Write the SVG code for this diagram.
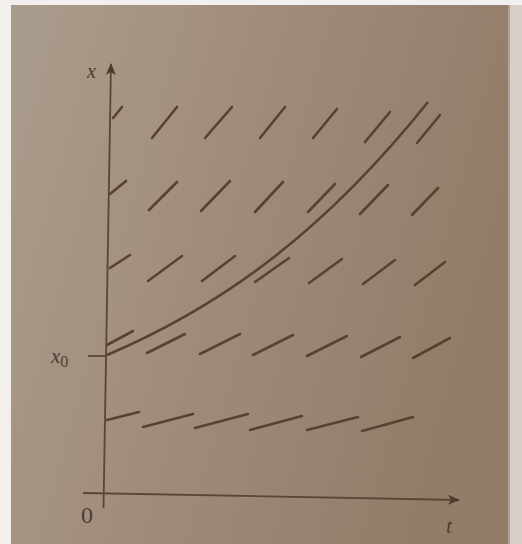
<svg xmlns="http://www.w3.org/2000/svg" width="522" height="544" viewBox="0 0 522 544">
<defs>
<linearGradient id="bg" x1="0" y1="0" x2="1" y2="0.3">
<stop offset="0" stop-color="#aa9d8d"/>
<stop offset="0.5" stop-color="#a08b7b"/>
<stop offset="1" stop-color="#927d69"/>
</linearGradient>
<marker id="arr" viewBox="0 0 12 10" refX="11" refY="5" markerWidth="12" markerHeight="10" markerUnits="userSpaceOnUse" orient="auto">
<path d="M0,0 L12,5 L0,10 L3,5 Z" fill="#4f3a2c"/>
</marker>
<style>
.ax{stroke:#5a4536;stroke-width:1.8;fill:none}
.sl{stroke:#5b4030;stroke-width:2.6;stroke-linecap:round;fill:none}
.cv{stroke:#5b4030;stroke-width:2.6;fill:none}
.lb{font-family:"Liberation Serif",serif;font-style:italic;fill:#4f3d30}
.nm{font-family:"Liberation Serif",serif;fill:#4f3d30}
</style>
</defs>
<rect width="522" height="544" fill="#f2f0ee"/>
<rect x="11" y="5" width="499" height="539" fill="url(#bg)"/>
<rect x="508" y="5" width="14" height="539" fill="#c4b9ae" opacity="0.6"/>

<g id="axes">
<line class="ax" x1="103.5" y1="508" x2="111" y2="64" marker-end="url(#arr)"/>
<line class="ax" x1="83" y1="493" x2="459" y2="500" marker-end="url(#arr)"/>
<line class="ax" x1="88" y1="356" x2="107" y2="356"/>
</g>

<g id="labels">
<text class="lb" x="87" y="78" font-size="20">x</text>
<text class="lb" x="51" y="363" font-size="21">x<tspan class="nm" font-style="normal" font-size="16" dy="4">0</tspan></text>
<text class="nm" x="81" y="523" font-size="24">0</text>
<text class="lb" x="446" y="533" font-size="22">t</text>
</g>

<g id="slope-field">
<line class="sl" x1="113" y1="118" x2="122" y2="107"/>
<line class="sl" x1="152" y1="138" x2="177" y2="107"/>
<line class="sl" x1="205" y1="138" x2="232" y2="107"/>
<line class="sl" x1="260" y1="138" x2="285" y2="107"/>
<line class="sl" x1="313" y1="138" x2="337" y2="109"/>
<line class="sl" x1="365" y1="142" x2="390" y2="112"/>
<line class="sl" x1="417" y1="143" x2="440" y2="115"/>

<line class="sl" x1="110" y1="194" x2="126" y2="181"/>
<line class="sl" x1="149" y1="210" x2="177" y2="182"/>
<line class="sl" x1="201" y1="211" x2="230" y2="181"/>
<line class="sl" x1="255" y1="212" x2="283" y2="182"/>
<line class="sl" x1="308" y1="212" x2="335" y2="184"/>
<line class="sl" x1="360" y1="214" x2="388" y2="185"/>
<line class="sl" x1="412" y1="215" x2="438" y2="188"/>

<line class="sl" x1="110" y1="268" x2="130" y2="255"/>
<line class="sl" x1="148" y1="281" x2="182" y2="256"/>
<line class="sl" x1="202" y1="281" x2="235" y2="256"/>
<line class="sl" x1="255" y1="282" x2="289" y2="258"/>
<line class="sl" x1="309" y1="283" x2="342" y2="259"/>
<line class="sl" x1="363" y1="284" x2="395" y2="260"/>
<line class="sl" x1="415" y1="285" x2="445" y2="262"/>

<line class="sl" x1="107" y1="345" x2="133" y2="331"/>
<line class="sl" x1="147" y1="353" x2="185" y2="334"/>
<line class="sl" x1="200" y1="354" x2="240" y2="334"/>
<line class="sl" x1="253" y1="355" x2="293" y2="335"/>
<line class="sl" x1="307" y1="356" x2="347" y2="336"/>
<line class="sl" x1="361" y1="357" x2="400" y2="337"/>
<line class="sl" x1="413" y1="358" x2="450" y2="338"/>

<line class="sl" x1="107" y1="420" x2="139" y2="412"/>
<line class="sl" x1="143" y1="427" x2="193" y2="414"/>
<line class="sl" x1="195" y1="428" x2="248" y2="414"/>
<line class="sl" x1="250" y1="430" x2="302" y2="416"/>
<line class="sl" x1="307" y1="430" x2="358" y2="417"/>
<line class="sl" x1="362" y1="431" x2="413" y2="417"/>
</g>

<g id="solution-curve">
<path class="cv" d="M107,355 C227,304 328,227 428,102"/>
</g>
</svg>
